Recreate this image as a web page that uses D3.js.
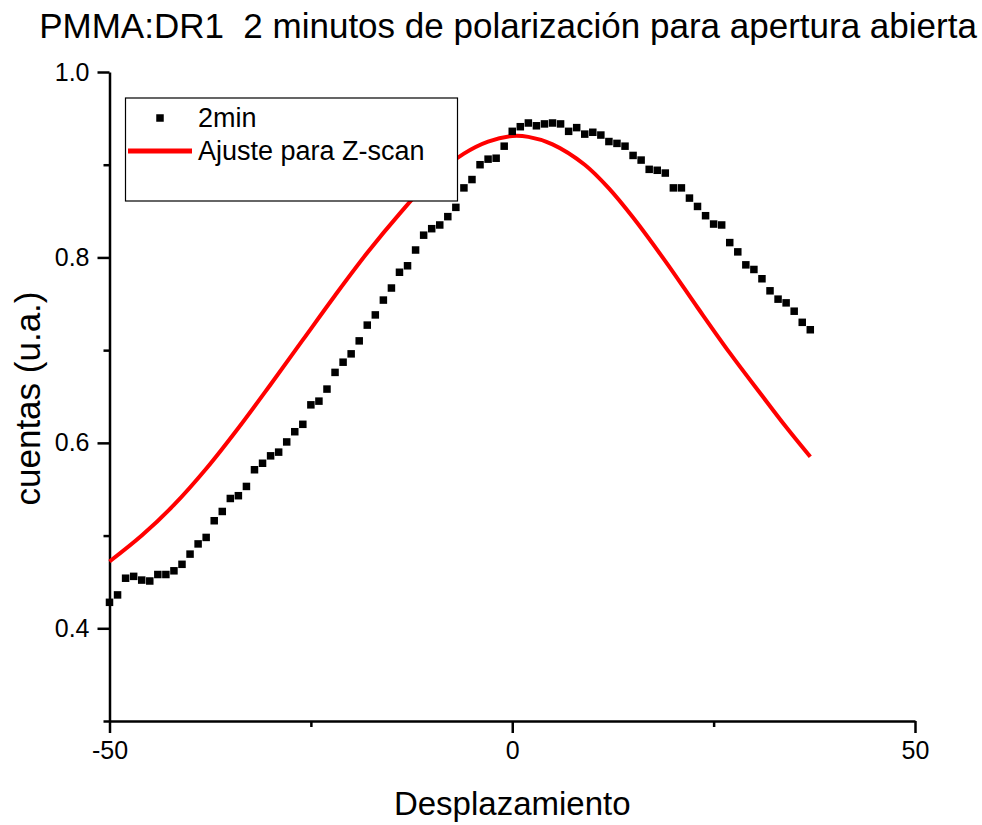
<!DOCTYPE html>
<meta charset="utf-8">
<script src="https://d3js.org/d3.v7.min.js"></script>
<style>
  body { margin: 0; background: #fff; }
  svg { font-family: Arial, "Liberation Sans", sans-serif; }
</style>
<div id="chart"></div>
<script>

    // measured points, 2 min
    const dispX = [-50, -49, -48, -47, -46, -45, -44, -43, -42, -41, -40, -39, -38, -37, -36, -35, -34, -33, -32, -31,
        -30, -29, -28, -27, -26, -25, -24, -23, -22, -21, -20, -19, -18, -17, -16, -15, -14, -13, -12, -11,
        -10, -9, -8, -7, -6, -5, -4, -3, -2, -1, 0, 1, 2, 3, 4, 5, 6, 7, 8, 9,
        10, 11, 12, 13, 14, 15, 16, 17, 18, 19, 20, 21, 22, 23, 24, 25, 26, 27, 28, 29,
        30, 31, 32, 33, 34, 35, 36, 37];
    const cuentas = [0.428, 0.436, 0.454, 0.456, 0.452, 0.451, 0.458, 0.458, 0.462, 0.469, 0.480, 0.491, 0.498, 0.516, 0.526, 0.540, 0.543, 0.553, 0.571, 0.578,
        0.586, 0.590, 0.601, 0.612, 0.620, 0.641, 0.645, 0.658, 0.676, 0.687, 0.696, 0.710, 0.727, 0.738, 0.754, 0.767, 0.784, 0.791, 0.808, 0.824,
        0.831, 0.835, 0.844, 0.854, 0.875, 0.884, 0.900, 0.906, 0.907, 0.920, 0.936, 0.941, 0.945, 0.942, 0.944, 0.945, 0.944, 0.936, 0.940, 0.933,
        0.935, 0.932, 0.925, 0.923, 0.920, 0.910, 0.905, 0.895, 0.894, 0.891, 0.875, 0.875, 0.864, 0.855, 0.845, 0.836, 0.835, 0.816, 0.806, 0.792,
        0.787, 0.777, 0.764, 0.755, 0.751, 0.742, 0.730, 0.722];

    // fit curve
    const fitX = [-50, -46, -42, -38, -34, -30, -26, -22, -18, -14, -10, -6, -3, 0, 2, 5, 9, 12, 15, 19, 23, 27, 31, 34, 37];
    const fitY = [0.472, 0.500, 0.533, 0.572, 0.616, 0.663, 0.711, 0.759, 0.805, 0.847, 0.885, 0.912, 0.925, 0.931, 0.930, 0.922, 0.900, 0.8745, 0.843, 0.796, 0.746, 0.697, 0.651, 0.617, 0.585];

    const xMajor = [-50, 0, 50];
    const xMinor = [-25, 25];
    const yMajor = [0.4, 0.6, 0.8, 1.0];
    const yMinor = [0.3, 0.5, 0.7, 0.9];

    const width = 982;
    const height = 825;
    const marginLeft = 109.5;
    const marginRight = 67;
    const marginTop = 72;
    const marginBottom = 104;

    const svg = d3.select("#chart")
        .append("svg")
        .attr("width", width)
        .attr("height", height)
        .attr("viewBox", [0, 0, width, height]);

    const x = d3.scaleLinear()
        .domain([-50, 50])
        .range([marginLeft, width - marginRight]);

    const y = d3.scaleLinear()
        .domain([0.3, 1.0])
        .range([height - marginBottom, marginTop]);

    // minor ticks first, then major ticks with labels
    const xAxisMinor = d3.axisBottom(x).tickValues(xMinor).tickSize(6).tickFormat("");
    const yAxisMinor = d3.axisLeft(y).tickValues(yMinor).tickSize(6).tickFormat("");

    svg.append("g")
        .attr("transform", `translate(0,${height - marginBottom})`)
        .call(xAxisMinor)
        .call(g => g.select(".domain").remove())
        .call(g => g.selectAll(".tick line").attr("stroke-width", 2.5));

    svg.append("g")
        .attr("transform", `translate(${marginLeft},0)`)
        .call(yAxisMinor)
        .call(g => g.select(".domain").remove())
        .call(g => g.selectAll(".tick line").attr("stroke-width", 2.5));

    svg.append("g")
        .attr("transform", `translate(0,${height - marginBottom})`)
        .call(d3.axisBottom(x).tickValues(xMajor).tickSize(12).tickSizeOuter(0).tickPadding(8).tickFormat(d3.format("d")))
        .call(g => g.select(".domain").attr("stroke-width", 2.5))
        .call(g => g.selectAll(".tick line").attr("stroke-width", 2.5))
        .call(g => g.selectAll(".tick text").attr("font-size", 25).attr("fill", "#000").text(d => d < 0 ? "-" + Math.abs(d) : d));

    svg.append("g")
        .attr("transform", `translate(${marginLeft},0)`)
        .call(d3.axisLeft(y).tickValues(yMajor).tickSize(12).tickSizeOuter(0).tickPadding(8).tickFormat(d3.format(".1f")))
        .call(g => g.select(".domain").attr("stroke-width", 2.5))
        .call(g => g.selectAll(".tick line").attr("stroke-width", 2.5))
        .call(g => g.selectAll(".tick text").attr("font-size", 25).attr("fill", "#000"));

    // axis titles
    svg.append("text")
        .attr("x", (marginLeft + width - marginRight) / 2)
        .attr("y", 815)
        .attr("text-anchor", "middle")
        .attr("font-size", 33)
        .text("Desplazamiento");

    svg.append("text")
        .attr("transform", `translate(40,${(marginTop + height - marginBottom) / 2 + 2}) rotate(-90)`)
        .attr("text-anchor", "middle")
        .attr("font-size", 35)
        .text("cuentas (u.a.)");

    svg.append("text")
        .attr("x", 508)
        .attr("y", 38)
        .attr("text-anchor", "middle")
        .attr("font-size", 35)
        .style("white-space", "pre")
        .text("PMMA:DR1  2 minutos de polarización para apertura abierta");

    // fit line
    const fit = fitX.map((d, i) => [d, fitY[i]]);
    svg.append("path")
        .datum(fit)
        .attr("fill", "none")
        .attr("stroke", "#ff0000")
        .attr("stroke-width", 4)
        .attr("d", d3.line().curve(d3.curveCatmullRom.alpha(0.5))
            .x(d => x(d[0]))
            .y(d => y(d[1])));

    // data squares
    const s = 7.5;
    svg.append("g")
        .selectAll("rect")
        .data(dispX)
        .join("rect")
        .attr("x", d => x(d) - s / 2)
        .attr("y", (d, i) => y(cuentas[i]) - s / 2)
        .attr("width", s)
        .attr("height", s)
        .attr("fill", "#000");

    // legend
    const legend = svg.append("g");
    legend.append("rect")
        .attr("x", 125.5)
        .attr("y", 98)
        .attr("width", 332)
        .attr("height", 103)
        .attr("fill", "#fff")
        .attr("stroke", "#000")
        .attr("stroke-width", 1.2);
    legend.append("rect")
        .attr("x", 160 - s / 2)
        .attr("y", 118 - s / 2)
        .attr("width", s)
        .attr("height", s)
        .attr("fill", "#000");
    legend.append("text")
        .attr("x", 198)
        .attr("y", 127)
        .attr("font-size", 27)
        .text("2min");
    legend.append("line")
        .attr("x1", 128)
        .attr("x2", 192)
        .attr("y1", 151)
        .attr("y2", 151)
        .attr("stroke", "#ff0000")
        .attr("stroke-width", 5);
    legend.append("text")
        .attr("x", 198)
        .attr("y", 160)
        .attr("font-size", 27)
        .text("Ajuste para Z-scan");

</script>
